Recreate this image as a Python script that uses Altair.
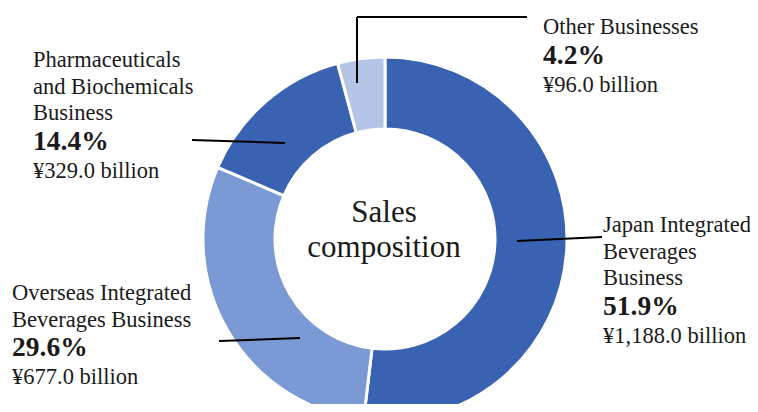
import altair as alt
import pandas as pd

# ---- data ----
segments = [
    "Japan Integrated Beverages Business",
    "Overseas Integrated Beverages Business",
    "Pharmaceuticals and Biochemicals Business",
    "Other Businesses",
]
sales_billion = [1188.0, 677.0, 329.0, 96.0]
share_pct = [51.9, 29.6, 14.4, 4.2]
name_lines = [
    ["Japan Integrated", "Beverages", "Business"],
    ["Overseas Integrated", "Beverages  Business"],
    ["Pharmaceuticals", "and Biochemicals", "Business"],
    ["Other Businesses"],
]
value_labels = ["¥1,188.0 billion", "¥677.0 billion", "¥329.0 billion", "¥96.0 billion"]
center_lines = ["Sales", "composition"]

# ---- layout (page pixel coordinates) ----
W, H = 742, 396
OFF = 8
CX, CY = 385, 239
R_OUT, R_IN = 182, 110
colors = ["#3A62B2", "#7A99D5", "#3A62B2", "#B3C4E7"]
label_pos = [(603, 225), (12, 293), (33, 60), (543, 27)]
leaders = [
    [(517, 241, 602, 237)],
    [(300, 338, 219, 341)],
    [(285, 143, 192, 140)],
    [(357, 83, 357, 17), (357, 17, 527, 17)],
]
FONT = "Liberation Serif"

pie_df = pd.DataFrame({
    "segment": segments,
    "sales": sales_billion,
    "order": list(range(len(segments))),
})

rows = []
for i, seg in enumerate(segments):
    x0, y0 = label_pos[i]
    y = y0
    for j, line in enumerate(name_lines[i]):
        if j > 0:
            y += 26.5
        rows.append({"x": x0, "y": y, "t": line, "kind": "name"})
    y += 28.5
    rows.append({"x": x0, "y": y, "t": f"{share_pct[i]:.1f}%", "kind": "pct"})
    y += 29
    rows.append({"x": x0, "y": y, "t": value_labels[i], "kind": "value"})
text_df = pd.DataFrame(rows)

lead_rows = []
for segs in leaders:
    for (a, b, c, d) in segs:
        lead_rows.append({"x": a, "y": b, "x2": c, "y2": d})
lead_df = pd.DataFrame(lead_rows)

center_df = pd.DataFrame({"x": [CX - 1, CX - 1], "y": [213, 248], "t": center_lines})

xs = alt.Scale(domain=[OFF, OFF + W])
ys = alt.Scale(domain=[OFF, OFF + H], reverse=True)

donut = alt.Chart(pie_df).mark_arc(
    outerRadius=R_OUT, innerRadius=R_IN, stroke="white", strokeWidth=3
).encode(
    theta=alt.Theta("sales:Q", stack=True),
    order=alt.Order("order:Q"),
    color=alt.Color("segment:N", scale=alt.Scale(domain=segments, range=colors), legend=None),
    x=alt.value(CX - OFF),
    y=alt.value(CY - OFF),
)

lines = alt.Chart(lead_df).mark_rule(color="black", strokeWidth=2).encode(
    x=alt.X("x:Q", scale=xs, axis=None),
    y=alt.Y("y:Q", scale=ys, axis=None),
    x2="x2:Q",
    y2="y2:Q",
)

def text_layer(kind, size, weight):
    return alt.Chart(text_df).transform_filter(
        alt.datum.kind == kind
    ).mark_text(
        align="left", baseline="middle", font=FONT, fontSize=size,
        fontWeight=weight, color="#1a1a1a"
    ).encode(
        x=alt.X("x:Q", scale=xs, axis=None),
        y=alt.Y("y:Q", scale=ys, axis=None),
        text="t:N",
    )

center = alt.Chart(center_df).mark_text(
    align="center", baseline="middle", font=FONT, fontSize=31, color="#1a1a1a"
).encode(
    x=alt.X("x:Q", scale=xs, axis=None),
    y=alt.Y("y:Q", scale=ys, axis=None),
    text="t:N",
)

chart = alt.layer(
    donut, lines,
    text_layer("name", 22.5, "normal"),
    text_layer("pct", 27.5, "bold"),
    text_layer("value", 22.5, "normal"),
    center,
).properties(
    width=W, height=H, padding=0, autosize=alt.AutoSizeParams(type="none")
).configure_view(stroke=None)

chart.save("out.html", embed_options={"renderer": "svg", "actions": False})
